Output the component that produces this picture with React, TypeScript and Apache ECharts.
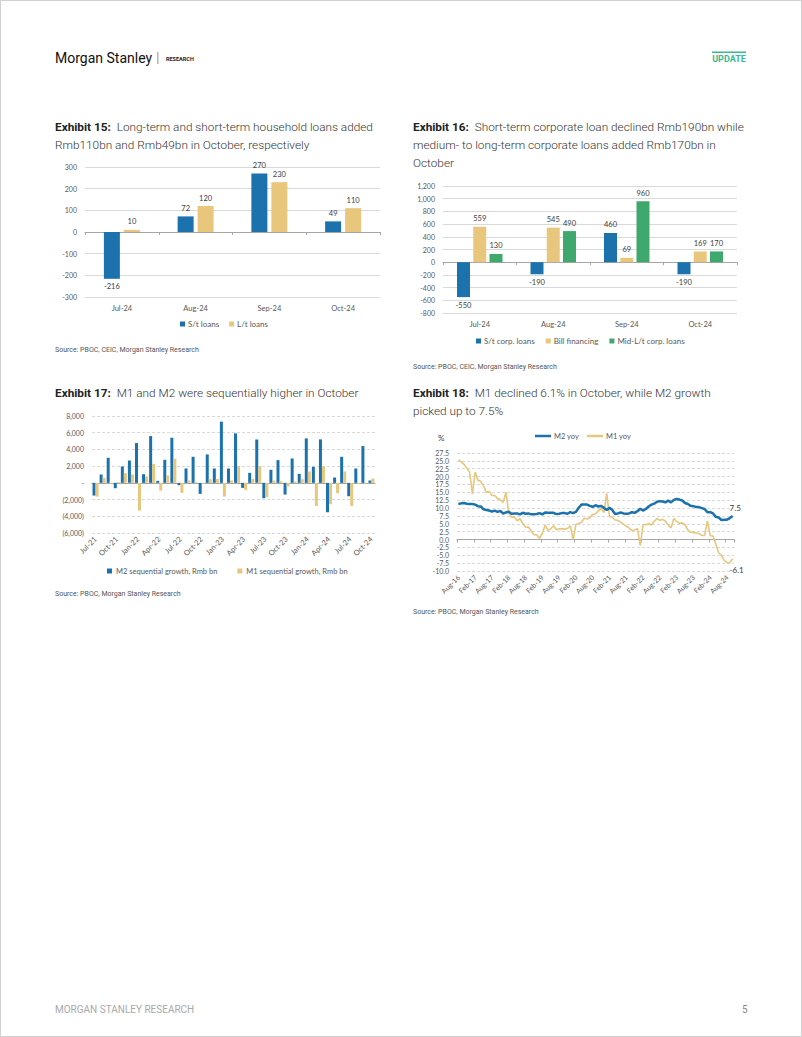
import React, { useEffect, useRef } from "react";
import * as echarts from "echarts";

// ---------- Data ----------
const cats15 = ["Jul-24", "Aug-24", "Sep-24", "Oct-24"];
const st15 = [-216, 72, 270, 49];
const lt15 = [10, 120, 230, 110];

const cats16 = ["Jul-24", "Aug-24", "Sep-24", "Oct-24"];
const st16 = [-550, -190, 460, -190];
const bill16 = [559, 545, 69, 169];
const mid16 = [130, 490, 960, 170];

const cats17 = [
  "Jul-21", "Aug-21", "Sep-21", "Oct-21", "Nov-21", "Dec-21",
  "Jan-22", "Feb-22", "Mar-22", "Apr-22", "May-22", "Jun-22",
  "Jul-22", "Aug-22", "Sep-22", "Oct-22", "Nov-22", "Dec-22",
  "Jan-23", "Feb-23", "Mar-23", "Apr-23", "May-23", "Jun-23",
  "Jul-23", "Aug-23", "Sep-23", "Oct-23", "Nov-23", "Dec-23",
  "Jan-24", "Feb-24", "Mar-24", "Apr-24", "May-24", "Jun-24",
  "Jul-24", "Aug-24", "Sep-24", "Oct-24",
];
const m2seq = [
  -1520, 1000, 3000, -640, 1960, 2680,
  4760, 1040, 5600, 240, 2760, 5400,
  -280, 1720, 3120, -1320, 3400, 1720,
  7320, 1720, 5920, -600, 1200, 5200,
  -1840, 1560, 2720, -1400, 2920, 1080,
  5320, 1920, 5200, -3520, 640, 3120,
  -1600, 1720, 4400, 280,
];
const m1seq = [
  -1640, 600, -100, 100, 1160, 1000,
  -3320, 760, 2280, -920, 880, 2880,
  -1200, 280, 80, -120, 440, 480,
  -1640, 280, 2000, -840, 480, 2000,
  -1720, 280, 200, -440, 160, 440,
  1360, -2760, 2000, -2560, -1240, 1360,
  -2760, -120, -80, 520,
];

const months = ["Jan", "Feb", "Mar", "Apr", "May", "Jun", "Jul", "Aug", "Sep", "Oct", "Nov", "Dec"];
const cats18: string[] = [];
for (let y = 16; y <= 24; y++) {
  for (let m = 0; m < 12; m++) {
    if (y === 16 && m < 7) continue;
    if (y === 24 && m > 9) continue;
    cats18.push(months[m] + "-" + y);
  }
}
const m2yoy = [
  11.3, 11.5, 11.6, 11.4, 11.3,
  11.3, 11.1, 10.6, 10.5, 9.6, 9.4, 9.2, 8.9, 9.2, 8.8, 9.1, 8.2,
  8.6, 8.8, 8.2, 8.3, 8.3, 8.0, 8.5, 8.2, 8.3, 8.0, 8.0, 8.1,
  8.4, 8.0, 8.6, 8.5, 8.5, 8.5, 8.1, 8.2, 8.4, 8.4, 8.2, 8.7,
  8.4, 8.8, 10.1, 11.1, 11.1, 11.1, 10.7, 10.4, 10.9, 10.5, 10.7, 10.1,
  9.4, 10.1, 9.4, 8.1, 8.3, 8.6, 8.3, 8.2, 8.3, 8.7, 8.5, 9.0,
  9.8, 9.2, 9.7, 10.5, 11.1, 11.4, 12.0, 12.2, 12.1, 11.8, 12.4, 11.8,
  12.6, 12.9, 12.7, 12.4, 11.6, 11.3, 10.7, 10.6, 10.3, 10.3, 10.0, 9.7,
  8.7, 8.7, 8.3, 7.2, 7.0, 6.2, 6.3, 6.3, 6.8, 7.5,
];
const m1yoy = [
  25.3, 24.7, 23.9, 22.7, 21.4,
  14.5, 21.4, 18.8, 18.5, 17.0, 15.0, 15.3, 14.0, 14.0, 13.0, 12.7, 11.8,
  15.0, 8.5, 7.1, 7.2, 6.0, 6.6, 5.1, 3.9, 4.0, 2.7, 1.5, 1.5,
  0.4, 2.0, 4.6, 2.9, 3.4, 4.4, 3.1, 3.4, 3.4, 3.3, 3.5, 4.4,
  0.0, 4.8, 5.0, 5.5, 6.8, 6.5, 6.9, 8.0, 8.1, 9.1, 10.0, 8.6,
  14.7, 7.4, 7.1, 6.2, 6.1, 5.5, 4.9, 4.2, 3.7, 2.8, 3.0, 3.5,
  -1.9, 4.7, 4.7, 5.1, 4.6, 5.8, 6.7, 6.1, 6.4, 5.8, 4.6, 3.7,
  6.7, 5.8, 5.1, 5.3, 4.7, 3.1, 2.3, 2.2, 2.1, 1.9, 1.3, 1.3,
  5.9, 1.2, 1.1, -1.4, -4.2, -5.0, -6.6, -7.3, -7.4, -6.1,
];

// ---------- Styles ----------
const BLUE = "#1b72ad";
const YELLOW = "#e8c67c";
const GREEN = "#3fa86c";
const AX = "#595959";
const GRID = "#d9d9d9";
const CF = "Lato";
const TF = "Roboto";

function barData(vals: number[]) {
  return vals.map((v) => ({
    value: v,
    label: { position: v < 0 ? "bottom" : "top" },
  }));
}

function xPair(cats: string[], gridIndex: number, opts: any = {}) {
  return [
    {
      type: "category",
      gridIndex,
      data: cats,
      position: "bottom",
      axisLine: { show: false, onZero: false },
      axisTick: { show: false },
      axisLabel: {
        color: AX,
        fontFamily: CF,
        fontSize: 7.5,
        margin: 7,
        ...(opts.label || {}),
      },
    },
    {
      type: "category",
      gridIndex,
      data: cats,
      position: "bottom",
      axisLine: { show: true, onZero: true, lineStyle: { color: "#a6a6a6", width: 1 } },
      axisTick: { show: true, length: 3, lineStyle: { color: "#a6a6a6" }, ...(opts.tick || {}) },
      axisLabel: { show: false },
    },
  ];
}

function yAxis(gridIndex: number, min: number, max: number, interval: number, fmt: (v: number) => string, dashed: boolean) {
  return {
    type: "value",
    gridIndex,
    min,
    max,
    interval,
    axisLine: { show: false },
    axisTick: { show: false },
    splitLine: { show: true, lineStyle: { color: GRID, width: 1, type: dashed ? [3, 2] : "solid" } },
    axisLabel: { color: AX, fontFamily: CF, fontSize: 7, margin: 8, formatter: fmt },
  };
}

function titleLines(x: number, y: number, lines: string[]) {
  return lines.map((t, i) => ({
    type: "text",
    x,
    y: y + i * 18,
    style: {
      text: t,
      fill: "#333333",
      font: `300 11.8px ${TF}`,
      verticalAlign: "middle",
      rich: {
        b: { fontFamily: TF, fontSize: 11.8, fontWeight: "bold", fill: "#222222" },
      },
    },
  }));
}

function smallText(x: number, y: number, text: string) {
  return {
    type: "text",
    x,
    y,
    style: { text, fill: "#555555", font: `7px ${TF}`, verticalAlign: "middle" },
  };
}

export default function App() {
  const ref = useRef<HTMLDivElement>(null);
  useEffect(() => {
    if (!ref.current) return;
    const chart = echarts.init(ref.current, undefined, { renderer: "svg" });

    const barLabel = { show: true, color: "#404040", fontFamily: CF, fontSize: 7.5, distance: 4 };

    const option: any = {
      animation: false,
      backgroundColor: "#ffffff",
      textStyle: { fontFamily: CF },
      grid: [
        { left: 85, top: 167, width: 295, height: 130 },
        { left: 443, top: 186, width: 294, height: 127 },
        { left: 92, top: 416, width: 283, height: 117 },
        { left: 457, top: 453, width: 277, height: 118 },
      ],
      xAxis: [
        ...xPair(cats15, 0),
        ...xPair(cats16, 1),
        ...xPair(cats17, 2, {
          label: { rotate: 45, interval: 2, fontSize: 7.5, margin: 5 },
          tick: { show: false },
        }),
        ...xPair(cats18, 3, {
          label: { rotate: 45, interval: 5, fontSize: 7, margin: 5 },
          tick: { interval: 5 },
        }),
      ],
      yAxis: [
        yAxis(0, -300, 300, 100, (v) => String(v), false),
        yAxis(1, -800, 1200, 200, (v) => v.toLocaleString("en-US"), false),
        yAxis(2, -6000, 8000, 2000, (v) =>
          v === 0 ? "-" : v < 0 ? "(" + Math.abs(v).toLocaleString("en-US") + ")" : v.toLocaleString("en-US"), true),
        yAxis(3, -10, 27.5, 2.5, (v) => v.toFixed(1), true),
      ],
      legend: [
        {
          data: ["S/t loans", "L/t loans"],
          left: 180, top: 320, padding: 0, itemGap: 10,
          icon: "rect", itemWidth: 5, itemHeight: 5,
          textStyle: { color: AX, fontFamily: CF, fontSize: 8, padding: [0, 0, 0, -2] },
        },
        {
          data: ["S/t corp. loans", "Bill financing", "Mid-L/t corp. loans"],
          left: 476, top: 337, padding: 0, itemGap: 11,
          icon: "rect", itemWidth: 5, itemHeight: 5,
          textStyle: { color: AX, fontFamily: CF, fontSize: 8, padding: [0, 0, 0, -2] },
        },
        {
          data: ["M2 sequential growth, Rmb bn", "M1 sequential growth, Rmb bn"],
          left: 107, top: 567, padding: 0, itemGap: 20,
          icon: "rect", itemWidth: 5, itemHeight: 5,
          textStyle: { color: AX, fontFamily: CF, fontSize: 7.5, padding: [0, 0, 0, -1] },
        },
        {
          data: ["M2 yoy", "M1 yoy"],
          left: 535, top: 432, padding: 0, itemGap: 8,
          icon: "rect", itemWidth: 16, itemHeight: 2.5,
          textStyle: { color: AX, fontFamily: CF, fontSize: 7.5, padding: [0, 0, 0, -2] },
        },
      ],
      series: [
        {
          name: "S/t loans", type: "bar", xAxisIndex: 0, yAxisIndex: 0,
          data: barData(st15), itemStyle: { color: BLUE }, barWidth: 16, barGap: "25%",
          label: barLabel,
        },
        {
          name: "L/t loans", type: "bar", xAxisIndex: 0, yAxisIndex: 0,
          data: barData(lt15), itemStyle: { color: YELLOW }, barWidth: 16, barGap: "25%",
          label: barLabel,
        },
        {
          name: "S/t corp. loans", type: "bar", xAxisIndex: 2, yAxisIndex: 1,
          data: barData(st16), itemStyle: { color: BLUE }, barWidth: 13, barGap: "25%",
          label: barLabel,
        },
        {
          name: "Bill financing", type: "bar", xAxisIndex: 2, yAxisIndex: 1,
          data: barData(bill16), itemStyle: { color: YELLOW }, barWidth: 13, barGap: "25%",
          label: barLabel,
        },
        {
          name: "Mid-L/t corp. loans", type: "bar", xAxisIndex: 2, yAxisIndex: 1,
          data: barData(mid16), itemStyle: { color: GREEN }, barWidth: 13, barGap: "25%",
          label: barLabel,
        },
        {
          name: "M2 sequential growth, Rmb bn", type: "bar", xAxisIndex: 4, yAxisIndex: 2,
          data: m2seq, itemStyle: { color: BLUE }, barWidth: 3, barGap: "0%",
        },
        {
          name: "M1 sequential growth, Rmb bn", type: "bar", xAxisIndex: 4, yAxisIndex: 2,
          data: m1seq, itemStyle: { color: YELLOW }, barWidth: 3, barGap: "0%",
        },
        {
          name: "M2 yoy", type: "line", xAxisIndex: 6, yAxisIndex: 3,
          data: m2yoy,
          symbol: "none", lineStyle: { color: BLUE, width: 2.5 }, itemStyle: { color: BLUE }, z: 3,
          endLabel: { show: true, formatter: (p: any) => String(p.value), offset: [-11, -8], color: "#404040", fontFamily: CF, fontSize: 8 },
        },
        {
          name: "M1 yoy", type: "line", xAxisIndex: 6, yAxisIndex: 3,
          data: m1yoy,
          symbol: "none", lineStyle: { color: YELLOW, width: 1.6 }, itemStyle: { color: YELLOW }, z: 2,
          endLabel: { show: true, formatter: (p: any) => String(p.value), offset: [-11, 11], color: "#404040", fontFamily: CF, fontSize: 8 },
        },
      ],
      graphic: [
        { type: "rect", shape: { x: 0.5, y: 0.5, width: 801, height: 1036 }, style: { fill: "none", stroke: "#d0d0d0", lineWidth: 1 }, silent: true },
        { type: "text", x: 55, y: 58, style: { text: "Morgan Stanley", fill: "#111111", font: `14px ${TF}`, verticalAlign: "middle" } },
        { type: "rect", shape: { x: 157.5, y: 52, width: 0.8, height: 12 }, style: { fill: "#777777" } },
        { type: "text", x: 166, y: 58.5, style: { text: "RESEARCH", fill: "#222222", font: `bold 5.5px ${TF}`, verticalAlign: "middle" } },
        { type: "rect", shape: { x: 712, y: 51.5, width: 34, height: 1.5 }, style: { fill: "#3db88f" } },
        { type: "text", x: 729, y: 59, style: { text: "UPDATE", fill: "#3db88f", font: `bold 9px ${TF}`, align: "center", verticalAlign: "middle" } },

        ...titleLines(55, 127, [
          "{b|Exhibit 15:}  Long-term and short-term household loans added",
          "Rmb110bn and Rmb49bn in October, respectively",
        ]),
        ...titleLines(413, 127, [
          "{b|Exhibit 16:}  Short-term corporate loan declined Rmb190bn while",
          "medium- to long-term corporate loans added Rmb170bn in",
          "October",
        ]),
        ...titleLines(55, 393, ["{b|Exhibit 17:}  M1 and M2 were sequentially higher in October"]),
        ...titleLines(413, 393, [
          "{b|Exhibit 18:}  M1 declined 6.1% in October, while M2 growth",
          "picked up to 7.5%",
        ]),

        smallText(55, 350, "Source: PBOC, CEIC, Morgan Stanley Research"),
        smallText(413, 367, "Source: PBOC, CEIC, Morgan Stanley Research"),
        smallText(55, 594, "Source: PBOC, Morgan Stanley Research"),
        smallText(413, 612, "Source: PBOC, Morgan Stanley Research"),

        { type: "text", x: 438, y: 438, style: { text: "%", fill: "#404040", font: `8px ${CF}`, verticalAlign: "middle" } },

        { type: "text", x: 55, y: 1009, style: { text: "MORGAN STANLEY RESEARCH", fill: "#aaaaaa", font: `10px ${TF}`, verticalAlign: "middle" } },
        { type: "text", x: 742, y: 1009, style: { text: "5", fill: "#888888", font: `10px ${TF}`, verticalAlign: "middle" } },
      ],
    };

    chart.setOption(option);
    return () => chart.dispose();
  }, []);

  return (
    <div
      ref={ref}
      style={{ position: "absolute", left: 0, top: 0, width: 802, height: 1037, background: "#fff" }}
    />
  );
}
